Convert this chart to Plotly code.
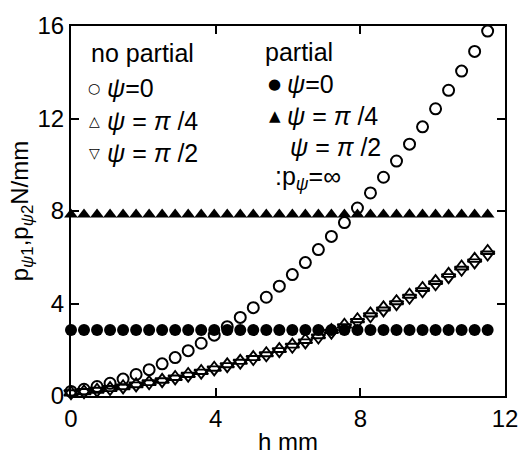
import plotly.graph_objects as go

# ---- data ----
h = [0.00, 0.36, 0.72, 1.08, 1.44, 1.80, 2.16, 2.52, 2.88, 3.24, 3.60,
     3.96, 4.32, 4.68, 5.04, 5.40, 5.76, 6.12, 6.48, 6.84, 7.20, 7.56,
     7.92, 8.28, 8.64, 9.00, 9.36, 9.72, 10.08, 10.44, 10.80, 11.16, 11.52]

nopart_psi0 = [0.20, 0.29, 0.41, 0.55, 0.73, 0.93, 1.14, 1.39, 1.66, 1.96, 2.28,
               2.63, 3.00, 3.40, 3.82, 4.27, 4.75, 5.25, 5.77, 6.33, 6.90, 7.50,
               8.13, 8.78, 9.46, 10.16, 10.89, 11.64, 12.42, 13.22, 14.05, 14.90, 15.78]

nopart_psi_pi4 = [0.15, 0.20, 0.27, 0.34, 0.42, 0.51, 0.60, 0.70, 0.82, 0.95, 1.08,
                  1.22, 1.37, 1.52, 1.68, 1.85, 2.03, 2.22, 2.42, 2.63, 2.85, 3.08,
                  3.32, 3.57, 3.83, 4.10, 4.38, 4.67, 4.97, 5.28, 5.60, 5.93, 6.27]

nopart_psi_pi2 = [0.12, 0.17, 0.23, 0.30, 0.37, 0.46, 0.55, 0.64, 0.76, 0.88, 1.01,
                  1.15, 1.29, 1.44, 1.60, 1.76, 1.94, 2.13, 2.32, 2.53, 2.74, 2.97,
                  3.20, 3.45, 3.70, 3.97, 4.25, 4.53, 4.83, 5.14, 5.46, 5.78, 6.12]

part_psi0 = [2.85] * len(h)
part_psi_pi4 = [7.85] * len(h)

x_ticks = [0, 4, 8, 12]
y_ticks = [0, 4, 8, 12, 16]

# ---- layout geometry ----
W, H = 530, 463
ML, MR, MT, MB = 71, 14, 15, 61
PW, PH = W - ML - MR, H - MT - MB

def paper(xp, yp):
    return (xp - ML) / PW, (H - MB - yp) / PH

FONT = "Liberation Sans, Arial, Helvetica, sans-serif"

fig = go.Figure()

def add(y, symbol, size, lw=0):
    fig.add_trace(go.Scatter(
        x=h, y=y, mode="markers", cliponaxis=False, showlegend=False,
        marker=dict(symbol=symbol, size=size, color="black",
                    line=dict(color="black", width=lw))))

add(part_psi_pi4, "triangle-up", 12)
add(part_psi0, "circle", 12)
add(nopart_psi0, "circle-open", 11, 2.0)
add(nopart_psi_pi4, "triangle-up-open", 12, 1.9)
add(nopart_psi_pi2, "triangle-down-open", 12, 1.9)

ann = []
def text(xp, yp, s, size=25):
    x, y = paper(xp, yp)
    ann.append(dict(x=x, y=y, xref="paper", yref="paper", text=s, showarrow=False,
                    xanchor="left", yanchor="middle",
                    font=dict(family=FONT, size=size, color="black")))

def sym(xp, yp, s, size=14):
    x, y = paper(xp, yp)
    ann.append(dict(x=x, y=y, xref="paper", yref="paper", text=s, showarrow=False,
                    xanchor="center", yanchor="middle",
                    font=dict(family="DejaVu Sans", size=size, color="black")))

psi = "<i>ψ</i>"
pi = "<i>π</i>"
# left column
text(89, 43, "no partial")
sym(95, 80, "○"); text(106, 80, f"{psi}=0")
sym(95, 114, "△"); text(106, 114, f"{psi} = {pi} /4")
sym(95, 148, "▽"); text(106, 148, f"{psi} = {pi} /2")
# right column
text(268, 42, "partial")
sym(280, 76, "●", 15); text(290, 76, f"{psi}=0")
sym(280, 109, "▲", 15); text(290, 109, f"{psi} = {pi} /4")
text(293, 142, f"{psi} = {pi} /2")
text(278, 174, f":p<sub>{psi}</sub>=∞")

axis_common = dict(showline=True, linecolor="black", linewidth=2, mirror="ticks",
                   ticks="inside", ticklen=8, tickwidth=1.5, tickcolor="black",
                   showgrid=False, zeroline=False,
                   tickfont=dict(family=FONT, size=24, color="black"))

fig.update_layout(
    width=W, height=H,
    margin=dict(l=ML, r=MR, t=MT, b=MB),
    paper_bgcolor="white", plot_bgcolor="white",
    xaxis=dict(range=[0, 12], tickvals=x_ticks, ticktext=[str(v) for v in x_ticks],
               title=dict(text="h mm", standoff=2,
                          font=dict(family=FONT, size=24, color="black")),
               **axis_common),
    yaxis=dict(range=[0, 16], tickvals=y_ticks, ticktext=[str(v) for v in y_ticks],
               title=dict(text=f"p<sub>{psi}1</sub>,p<sub>{psi}2</sub>N/mm", standoff=2,
                          font=dict(family=FONT, size=24, color="black")),
               **axis_common),
    annotations=ann,
)

fig.write_html("out.html")
